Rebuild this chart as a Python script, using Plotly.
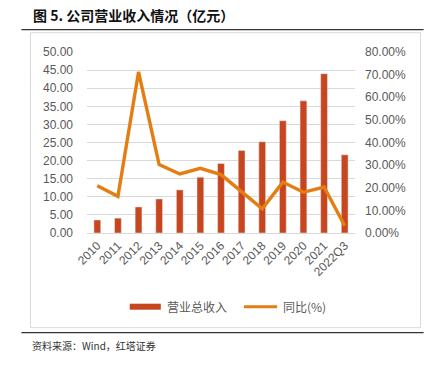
import plotly.graph_objects as go

categories = ["2010", "2011", "2012", "2013", "2014", "2015", "2016",
              "2017", "2018", "2019", "2020", "2021", "2022Q3"]
revenue = [3.6, 4.1, 7.2, 9.4, 11.9, 15.4, 19.2, 22.8, 25.2, 31.0, 36.5, 44.0, 21.6]
yoy = [0.209, 0.162, 0.712, 0.302, 0.261, 0.286, 0.258, 0.184, 0.107, 0.225, 0.180, 0.203, 0.032]

BAR_COLOR = "#C8461E"
LINE_COLOR = "#E47E12"
TICK_COLOR = "#595959"

W, H = 433, 370
# plot area in page pixels
L, R = 87.4, 354.6
T, B = 52.3, 233.3


def px(x):
    return (x - L) / (R - L)


def py(y):
    return (B - y) / (B - T)


fig = go.Figure()
fig.add_trace(go.Bar(x=categories, y=revenue, marker_color=BAR_COLOR, width=0.33,
                     name="营业总收入", showlegend=False))
fig.add_trace(go.Scatter(x=categories, y=yoy, mode="lines", yaxis="y2",
                         line=dict(color=LINE_COLOR, width=3.4), name="同比(%)",
                         showlegend=False))

font_tick = dict(family="Liberation Sans, Arial", size=12, color=TICK_COLOR)

fig.update_layout(
    width=W, height=H,
    margin=dict(l=L, r=W - R, t=T, b=H - B),
    paper_bgcolor="white", plot_bgcolor="white",
    xaxis=dict(type="category", tickangle=-45, tickfont=font_tick,
               showline=True, linecolor="#D9D9D9", linewidth=1,
               ticks="", showgrid=False, range=[-0.5, 12.5]),
    yaxis=dict(range=[0, 50], dtick=5, tickformat=".2f", tickfont=font_tick,
               showgrid=True, gridcolor="#D9D9D9", gridwidth=1, zeroline=False,
               ticks="", ticklabelstandoff=13),
    yaxis2=dict(range=[0, 0.8], dtick=0.1, tickformat=".2%", tickfont=font_tick,
                overlaying="y", side="right", showgrid=False, zeroline=False,
                ticks="", ticklabelstandoff=9),
    showlegend=False,
)

shapes = []
# frame
shapes.append(dict(type="rect", xref="paper", yref="paper",
                   x0=px(31), x1=px(420), y0=py(328), y1=py(33),
                   line=dict(color="#D9D9D9", width=1), layer="below"))
# dark lines
for yy in (30, 333):
    shapes.append(dict(type="line", xref="paper", yref="paper",
                       x0=px(22), x1=px(423), y0=py(yy), y1=py(yy),
                       line=dict(color="#333333", width=1.2)))
# legend swatches
shapes.append(dict(type="rect", xref="paper", yref="paper",
                   x0=px(130), x1=px(161), y0=py(310), y1=py(304),
                   fillcolor=BAR_COLOR, line=dict(width=0)))
shapes.append(dict(type="line", xref="paper", yref="paper",
                   x0=px(244), x1=px(277), y0=py(307), y1=py(307),
                   line=dict(color=LINE_COLOR, width=3)))
fig.update_layout(shapes=shapes)

ann = []
ann.append(dict(text="<b>图 5. 公司营业收入情况（亿元）</b>", xref="paper", yref="paper",
                x=px(32), y=py(15.5), xanchor="left", yanchor="middle", showarrow=False,
                font=dict(family="Noto Sans CJK SC", size=14, color="#111111")))
ann.append(dict(text="营业总收入", xref="paper", yref="paper",
                x=px(165), y=py(307), xanchor="left", yanchor="middle", showarrow=False,
                font=dict(family="Noto Sans CJK SC", size=12, color=TICK_COLOR)))
ann.append(dict(text="同比(%)", xref="paper", yref="paper",
                x=px(281), y=py(307), xanchor="left", yanchor="middle", showarrow=False,
                font=dict(family="Noto Sans CJK SC", size=12, color=TICK_COLOR)))
ann.append(dict(text="资料来源：Wind，红塔证券", xref="paper", yref="paper",
                x=px(31), y=py(346), xanchor="left", yanchor="middle", showarrow=False,
                font=dict(family="Noto Sans CJK SC", size=10, color="#333333")))
fig.update_layout(annotations=ann)

fig.write_html("out.html", config={"displayModeBar": False},
               post_script="document.body.style.margin='0';")
